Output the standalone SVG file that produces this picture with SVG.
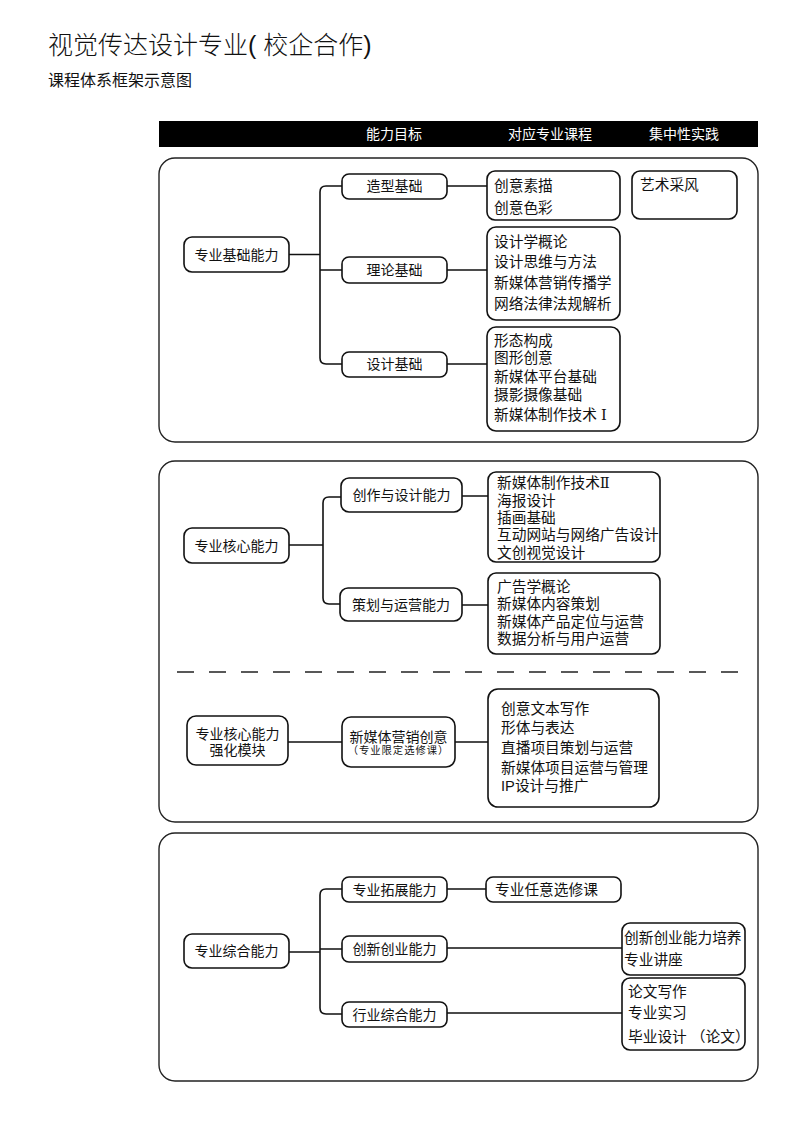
<svg xmlns="http://www.w3.org/2000/svg" width="799" height="1131" viewBox="0 0 799 1131">
<style>
text{font-family:"Liberation Sans","Noto Sans CJK SC",sans-serif;fill:#111}
.sec{fill:#fff;stroke:#222;stroke-width:1.4}
.nd{fill:#fff;stroke:#111;stroke-width:1.6}
.nt{font-size:14px;text-anchor:middle}
.ct{font-size:14.7px}
.hd{font-size:14px;fill:#fff;text-anchor:middle}
.cn{fill:none;stroke:#111;stroke-width:1.6}
.rn{font-family:"DejaVu Serif","Liberation Serif",serif}
</style>
<rect width="799" height="1131" fill="#fff"/>
<text x="48" y="54" font-size="25" style="font-weight:300">视觉传达设计专业( 校企合作)</text>
<text x="48" y="86" font-size="16">课程体系框架示意图</text>
<g id="header">
<rect x="159" y="121" width="599" height="26" fill="#000"/>
<text class="hd" x="394" y="139">能力目标</text>
<text class="hd" x="550" y="139">对应专业课程</text>
<text class="hd" x="684" y="139">集中性实践</text>
</g>
<g id="sections">
<rect class="sec" x="159" y="158" width="599" height="284" rx="16"/>
<rect class="sec" x="159" y="461" width="599" height="361" rx="16"/>
<rect class="sec" x="159" y="833" width="599" height="248" rx="16"/>
<line x1="177" y1="672" x2="742" y2="672" stroke="#222" stroke-width="1.4" stroke-dasharray="17 15"/>
</g>
<g id="connectors">
<path class="cn" d="M289 254.5H320M342 186H326Q320 186 320 192V358Q320 364 326 364H342M320 270H342"/>
<path class="cn" d="M447 186H487M447 270H488M447 364H488"/>
<path class="cn" d="M289 545H323M342 497H329Q323 497 323 503V598Q323 604 329 604H340M462 496H488M462 605H488"/>
<path class="cn" d="M288 742H342M455 742H488"/>
<path class="cn" d="M289 952H320M342 889H326Q320 889 320 895V1008Q320 1014 326 1014H342M320 949H342M447 889H486M447 948H622M447 1013H622"/>
</g>
<g id="n-jichu"><rect class="nd" x="184" y="237" width="105" height="35" rx="8"/><text class="nt" x="236.5" y="259.5">专业基础能力</text></g>
<g id="n-zaoxing"><rect class="nd" x="342" y="174" width="105" height="25" rx="7"/><text class="nt" x="394.5" y="191">造型基础</text></g>
<g id="n-lilun"><rect class="nd" x="342" y="257" width="105" height="26" rx="7"/><text class="nt" x="394.5" y="275">理论基础</text></g>
<g id="n-sheji"><rect class="nd" x="342" y="352" width="105" height="25" rx="7"/><text class="nt" x="394.5" y="369">设计基础</text></g>
<g id="c-zaoxing"><rect class="nd" x="487" y="171" width="133" height="49" rx="8"/><text class="ct" x="494" y="191">创意素描</text><text class="ct" x="494" y="213">创意色彩</text></g>
<g id="c-caifeng"><rect class="nd" x="632" y="171" width="105" height="48" rx="8"/><text class="ct" x="640" y="190">艺术采风</text></g>
<g id="c-lilun"><rect class="nd" x="487" y="227" width="133" height="93" rx="9"/>
<text class="ct" x="494" y="247">设计学概论</text><text class="ct" x="494" y="267">设计思维与方法</text><text class="ct" x="494" y="288">新媒体营销传播学</text><text class="ct" x="494" y="309">网络法律法规解析</text></g>
<g id="c-sheji"><rect class="nd" x="487" y="327" width="133" height="104" rx="9"/>
<text class="ct" x="494" y="346">形态构成</text><text class="ct" x="494" y="363">图形创意</text><text class="ct" x="494" y="382">新媒体平台基础</text><text class="ct" x="494" y="400">摄影摄像基础</text><text class="ct" x="494" y="420">新媒体制作技术 <tspan class="rn">Ⅰ</tspan></text></g>
<g id="n-hexin"><rect class="nd" x="184" y="528" width="105" height="35" rx="8"/><text class="nt" x="236.5" y="550.5">专业核心能力</text></g>
<g id="n-chuangzuo"><rect class="nd" x="341" y="478" width="121" height="34" rx="8"/><text class="nt" x="401.5" y="500">创作与设计能力</text></g>
<g id="n-cehua"><rect class="nd" x="340" y="588" width="122" height="33" rx="8"/><text class="nt" x="401" y="609.5">策划与运营能力</text></g>
<g id="c-chuangzuo"><rect class="nd" x="488" y="472" width="172" height="90" rx="8"/>
<text class="ct" x="497" y="488">新媒体制作技术<tspan class="rn">Ⅱ</tspan></text><text class="ct" x="497" y="506">海报设计</text><text class="ct" x="497" y="523">插画基础</text><text class="ct" x="497" y="540">互动网站与网络广告设计</text><text class="ct" x="497" y="558">文创视觉设计</text></g>
<g id="c-cehua"><rect class="nd" x="488" y="573" width="172" height="81" rx="8"/>
<text class="ct" x="497" y="592">广告学概论</text><text class="ct" x="497" y="609">新媒体内容策划</text><text class="ct" x="497" y="627">新媒体产品定位与运营</text><text class="ct" x="497" y="644">数据分析与用户运营</text></g>
<g id="n-qianghua"><rect class="nd" x="187" y="716" width="101" height="49" rx="9"/><text class="nt" x="237.5" y="739">专业核心能力</text><text class="nt" x="237.5" y="755">强化模块</text></g>
<g id="n-yingxiao"><rect class="nd" x="342" y="717" width="113" height="50" rx="9"/><text class="nt" x="398.5" y="742" font-size="14.5">新媒体营销创意</text><text x="398.5" y="754" font-size="10.3" text-anchor="middle" letter-spacing="1">（专业限定选修课）</text></g>
<g id="c-yingxiao"><rect class="nd" x="488" y="689" width="171" height="118" rx="10"/>
<text class="ct" x="501" y="714">创意文本写作</text><text class="ct" x="501" y="733">形体与表达</text><text class="ct" x="501" y="753">直播项目策划与运营</text><text class="ct" x="501" y="773">新媒体项目运营与管理</text><text class="ct" x="501" y="791">IP设计与推广</text></g>
<g id="n-zonghe"><rect class="nd" x="184" y="934" width="105" height="34" rx="8"/><text class="nt" x="236.5" y="956">专业综合能力</text></g>
<g id="n-tuozhan"><rect class="nd" x="342" y="877" width="105" height="25" rx="7"/><text class="nt" x="394.5" y="894.5">专业拓展能力</text></g>
<g id="n-chuangxin"><rect class="nd" x="342" y="936" width="105" height="26" rx="7"/><text class="nt" x="394.5" y="954">创新创业能力</text></g>
<g id="n-hangye"><rect class="nd" x="342" y="1002" width="105" height="25" rx="7"/><text class="nt" x="394.5" y="1019.5">行业综合能力</text></g>
<g id="c-tuozhan"><rect class="nd" x="486" y="877" width="135" height="25" rx="7"/><text class="ct" x="495" y="894.5">专业任意选修课</text></g>
<g id="c-chuangxin"><rect class="nd" x="622" y="923" width="123" height="52" rx="8"/><text class="ct" x="624" y="943">创新创业能力培养</text><text class="ct" x="624" y="965">专业讲座</text></g>
<g id="c-hangye"><rect class="nd" x="622" y="978" width="123" height="72" rx="8"/><text class="ct" x="628" y="997">论文写作</text><text class="ct" x="628" y="1018">专业实习</text><text class="ct" x="628" y="1042">毕业设计 （论文）</text></g>
</svg>
